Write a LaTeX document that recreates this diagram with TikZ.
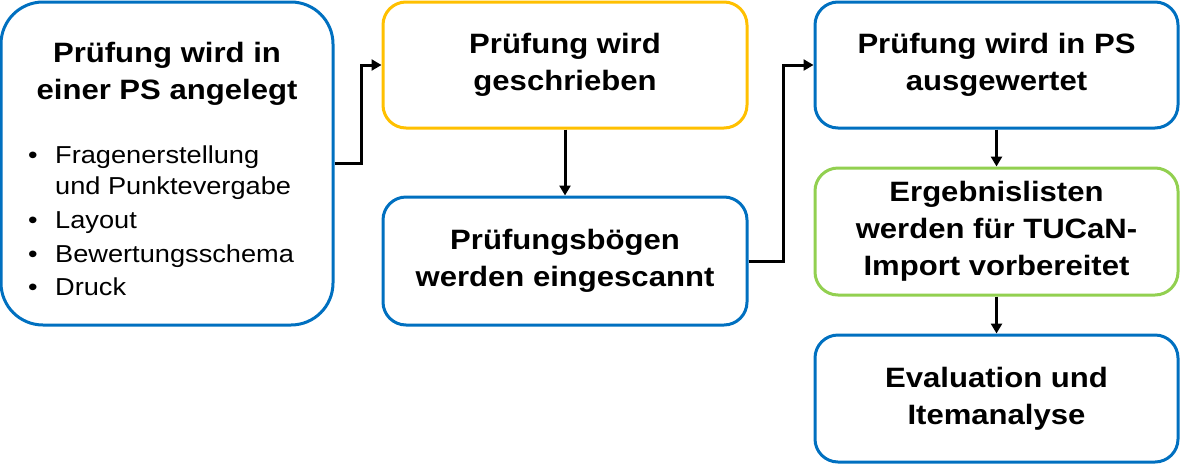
\documentclass[tikz,border=0pt]{standalone}
\usepackage{fontspec}
\setmainfont{Liberation Sans}[FakeStretch=1.11]
\usetikzlibrary{arrows.meta}
\definecolor{tublue}{HTML}{0070C0}
\definecolor{tuyellow}{HTML}{FFC000}
\definecolor{tugreen}{HTML}{92D050}
\tikzset{
  box/.style={draw=tublue, line width=3pt, rounded corners=23pt, fill=white,
    align=center, inner sep=0pt, font=\fontsize{28}{37}\selectfont\bfseries},
  bigbox/.style={box, rounded corners=42pt},
  titletext/.style={align=center, inner sep=0pt, font=\fontsize{28}{37}\selectfont\bfseries},
  bullettext/.style={anchor=base west, inner sep=0pt, font=\fontsize{24.5}{33}\selectfont},
  conn/.style={line width=3pt, -{Triangle[length=10pt,width=11pt]}}
}
\begin{document}
\begin{tikzpicture}[x=1pt,y=-1pt]
\useasboundingbox (0,0) rectangle (1180,464);
% boxes
\node[bigbox, minimum width=332pt, minimum height=323pt] (b1) at (167,163.5) {};
\node[titletext] (t1) at (167,74) {Prüfung wird in\\einer PS angelegt};
\node[bullettext] (l1) at (28,163) {\makebox[27pt][l]{•}Fragenerstellung};
\node[bullettext] (l2) at (28,194) {\hspace*{27pt}und Punktevergabe};
\node[bullettext] (l3) at (28,228) {\makebox[27pt][l]{•}Layout};
\node[bullettext] (l4) at (28,262) {\makebox[27pt][l]{•}Bewertungsschema};
\node[bullettext] (l5) at (28,295) {\makebox[27pt][l]{•}Druck};

\node[box, draw=tuyellow, minimum width=364pt, minimum height=126pt] (b2) at (565,65) {Prüfung wird\\geschrieben};
\node[box, minimum width=364pt, minimum height=128pt] (b3) at (565,261) {Prüfungsbögen\\werden eingescannt};
\node[box, minimum width=363pt, minimum height=126pt] (b4) at (996.5,65) {Prüfung wird in PS\\ausgewertet};
\node[box, draw=tugreen, minimum width=363pt, minimum height=127pt] (b5) at (996.5,231.5) {Ergebnislisten\\werden für TUCaN-\\Import vorbereitet};
\node[box, minimum width=363pt, minimum height=127pt] (b6) at (996.5,398.5) {Evaluation und\\Itemanalyse};

% connectors
\draw[conn] (b1.east) -- ++(27,0) |- (b2.west);
\draw[conn] (b2.south) -- (b3.north);
\draw[conn] (b3.east) -- ++(35,0) |- (b4.west);
\draw[conn] (b4.south) -- (b5.north);
\draw[conn] (b5.south) -- (b6.north);
\end{tikzpicture}
\end{document}
